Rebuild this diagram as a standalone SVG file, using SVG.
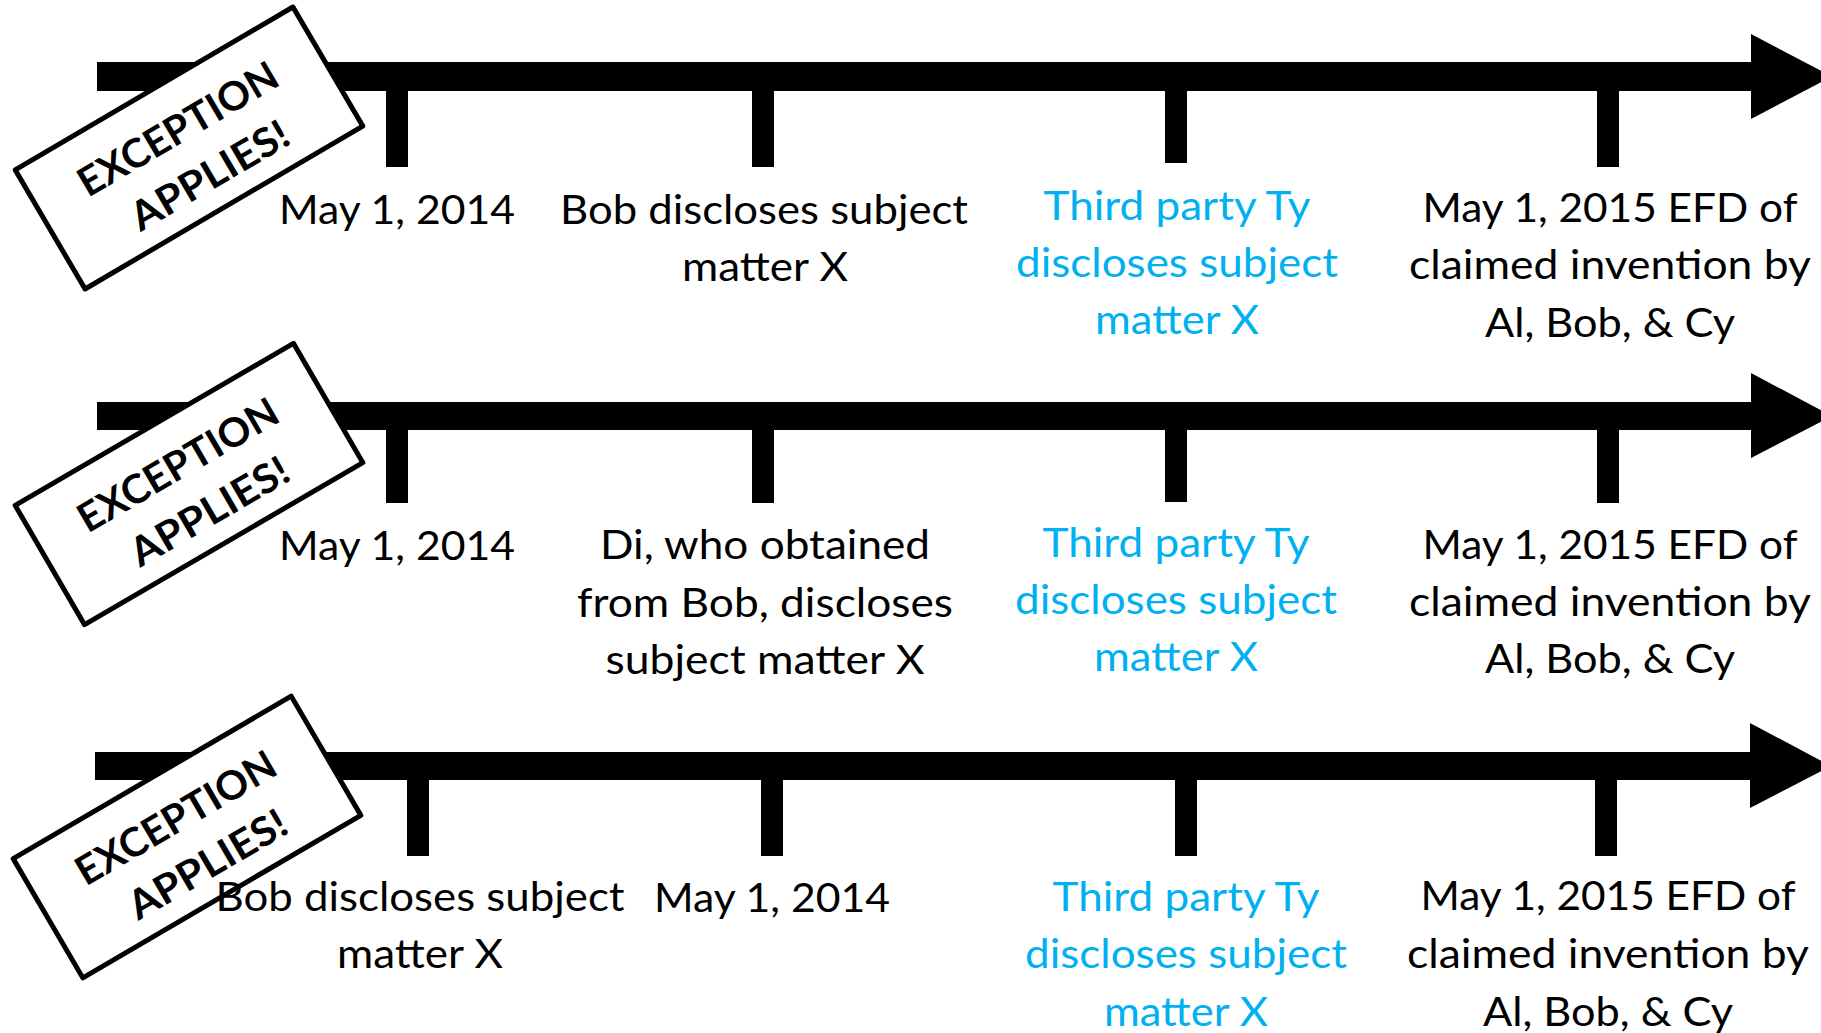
<svg xmlns="http://www.w3.org/2000/svg" width="1821" height="1033" viewBox="0 0 1821 1033">
  <style>
    .bar { fill: #000; }
    .lbl { font-family: Lato, "Open Sans", "Liberation Sans", sans-serif; font-size: 40px; text-anchor: middle; fill: #000; }
    .blue { fill: #00B0F0; }
    .stamp rect { fill: #fff; stroke: #000; stroke-width: 5; stroke-linejoin: round; }
    .stamp text { font-family: Lato, "Open Sans", "Liberation Sans", sans-serif; font-size: 40px; font-weight: 700; text-anchor: middle; fill: #000; }
  </style>

  <!-- timelines: shaft, arrowhead and event ticks -->
  <g id="connectors">
    <g id="timeline-1">
      <rect class="bar" x="97" y="62" width="1656" height="29"/>
      <polygon class="bar" points="1751,34 1832,76.5 1751,119"/>
      <rect class="bar" x="386" y="89" width="22" height="78"/>
      <rect class="bar" x="752" y="89" width="22" height="78"/>
      <rect class="bar" x="1165" y="89" width="22" height="74"/>
      <rect class="bar" x="1597" y="89" width="22" height="78"/>
    </g>
    <g id="timeline-2">
      <rect class="bar" x="97" y="402" width="1656" height="28"/>
      <polygon class="bar" points="1751,373 1832,416 1751,458"/>
      <rect class="bar" x="386" y="428" width="22" height="75"/>
      <rect class="bar" x="752" y="428" width="22" height="75"/>
      <rect class="bar" x="1165" y="428" width="22" height="74"/>
      <rect class="bar" x="1597" y="428" width="22" height="75"/>
    </g>
    <g id="timeline-3">
      <rect class="bar" x="95" y="752" width="1657" height="28"/>
      <polygon class="bar" points="1750,723 1831,766 1750,808"/>
      <rect class="bar" x="407" y="778" width="22" height="78"/>
      <rect class="bar" x="761" y="778" width="22" height="78"/>
      <rect class="bar" x="1175" y="778" width="22" height="78"/>
      <rect class="bar" x="1595" y="778" width="22" height="78"/>
    </g>
  </g>

  <!-- "exception applies" stamps -->
  <g id="stamp-1" class="stamp" transform="translate(189,148) rotate(-30.4)">
    <rect x="-161" y="-69" width="322" height="138"/>
    <text x="0" y="-8" textLength="225" lengthAdjust="spacingAndGlyphs">EXCEPTION</text>
    <text x="4" y="48" textLength="177" lengthAdjust="spacingAndGlyphs">APPLIES!</text>
  </g>
  <g id="stamp-2" class="stamp" transform="translate(189,484) rotate(-30.2)">
    <rect x="-161" y="-69" width="322" height="138"/>
    <text x="0" y="-8" textLength="225" lengthAdjust="spacingAndGlyphs">EXCEPTION</text>
    <text x="4" y="48" textLength="177" lengthAdjust="spacingAndGlyphs">APPLIES!</text>
  </g>
  <g id="stamp-3" class="stamp" transform="translate(187,837) rotate(-30.3)">
    <rect x="-161" y="-69" width="322" height="138"/>
    <text x="0" y="-8" textLength="225" lengthAdjust="spacingAndGlyphs">EXCEPTION</text>
    <text x="4" y="48" textLength="177" lengthAdjust="spacingAndGlyphs">APPLIES!</text>
  </g>

  <!-- timeline 1 events -->
  <g id="t1-may-2014" class="lbl">
    <text x="397" y="224" textLength="236" lengthAdjust="spacingAndGlyphs">May 1, 2014</text>
  </g>
  <g id="t1-bob-discloses" class="lbl">
    <text x="764" y="224" textLength="408" lengthAdjust="spacingAndGlyphs">Bob discloses subject</text>
    <text x="765" y="281" textLength="166" lengthAdjust="spacingAndGlyphs">matter X</text>
  </g>
  <g id="t1-third-party" class="lbl blue">
    <text x="1177" y="220" textLength="267" lengthAdjust="spacingAndGlyphs">Third party Ty</text>
    <text x="1177" y="277" textLength="322" lengthAdjust="spacingAndGlyphs">discloses subject</text>
    <text x="1177" y="334" textLength="164" lengthAdjust="spacingAndGlyphs">matter X</text>
  </g>
  <g id="t1-efd" class="lbl">
    <text x="1610" y="222" textLength="375" lengthAdjust="spacingAndGlyphs">May 1, 2015 EFD of</text>
    <text x="1610" y="279" textLength="402" lengthAdjust="spacingAndGlyphs">claimed invention by</text>
    <text x="1610" y="337" textLength="250" lengthAdjust="spacingAndGlyphs">Al, Bob, &amp; Cy</text>
  </g>

  <!-- timeline 2 events -->
  <g id="t2-may-2014" class="lbl">
    <text x="397" y="560" textLength="236" lengthAdjust="spacingAndGlyphs">May 1, 2014</text>
  </g>
  <g id="t2-di-discloses" class="lbl">
    <text x="765" y="559" textLength="330" lengthAdjust="spacingAndGlyphs">Di, who obtained</text>
    <text x="765" y="617" textLength="376" lengthAdjust="spacingAndGlyphs">from Bob, discloses</text>
    <text x="765" y="674" textLength="319" lengthAdjust="spacingAndGlyphs">subject matter X</text>
  </g>
  <g id="t2-third-party" class="lbl blue">
    <text x="1176" y="557" textLength="267" lengthAdjust="spacingAndGlyphs">Third party Ty</text>
    <text x="1176" y="614" textLength="322" lengthAdjust="spacingAndGlyphs">discloses subject</text>
    <text x="1176" y="671" textLength="164" lengthAdjust="spacingAndGlyphs">matter X</text>
  </g>
  <g id="t2-efd" class="lbl">
    <text x="1610" y="559" textLength="375" lengthAdjust="spacingAndGlyphs">May 1, 2015 EFD of</text>
    <text x="1610" y="616" textLength="402" lengthAdjust="spacingAndGlyphs">claimed invention by</text>
    <text x="1610" y="673" textLength="250" lengthAdjust="spacingAndGlyphs">Al, Bob, &amp; Cy</text>
  </g>

  <!-- timeline 3 events -->
  <g id="t3-bob-discloses" class="lbl">
    <text x="420" y="911" textLength="409" lengthAdjust="spacingAndGlyphs">Bob discloses subject</text>
    <text x="420" y="968" textLength="166" lengthAdjust="spacingAndGlyphs">matter X</text>
  </g>
  <g id="t3-may-2014" class="lbl">
    <text x="772" y="912" textLength="236" lengthAdjust="spacingAndGlyphs">May 1, 2014</text>
  </g>
  <g id="t3-third-party" class="lbl blue">
    <text x="1186" y="911" textLength="267" lengthAdjust="spacingAndGlyphs">Third party Ty</text>
    <text x="1186" y="968" textLength="322" lengthAdjust="spacingAndGlyphs">discloses subject</text>
    <text x="1186" y="1026" textLength="164" lengthAdjust="spacingAndGlyphs">matter X</text>
  </g>
  <g id="t3-efd" class="lbl">
    <text x="1608" y="910" textLength="375" lengthAdjust="spacingAndGlyphs">May 1, 2015 EFD of</text>
    <text x="1608" y="968" textLength="402" lengthAdjust="spacingAndGlyphs">claimed invention by</text>
    <text x="1608" y="1026" textLength="250" lengthAdjust="spacingAndGlyphs">Al, Bob, &amp; Cy</text>
  </g>
</svg>
